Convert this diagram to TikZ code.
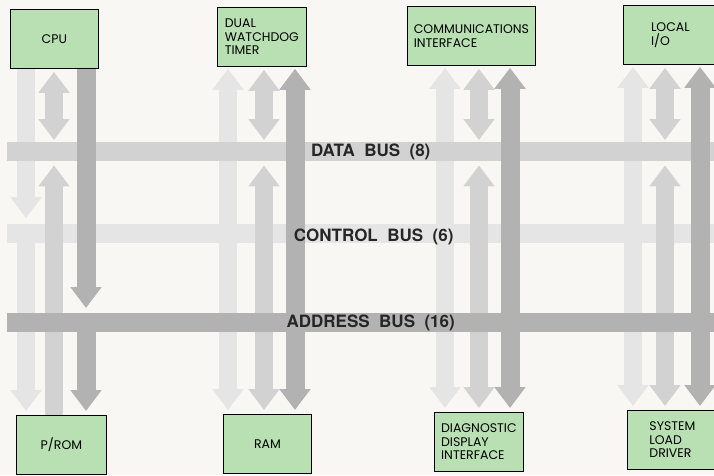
\documentclass[tikz,border=0pt]{standalone}
\usepackage{fontspec}
\usepackage{tikz}
\usetikzlibrary{arrows.meta}

\newfontfamily\modfont{Poppins}
\newfontfamily\busfont[WordSpace=2]{TeX Gyre Heros}

\definecolor{modgreen}{RGB}{184,224,178}
\definecolor{paper}{RGB}{248,247,243}
\definecolor{ctlgray}{RGB}{229,229,229}
\definecolor{datgray}{RGB}{210,210,210}
\definecolor{adrgray}{RGB}{178,178,178}

\pgfdeclarelayer{bg}
\pgfdeclarelayer{ctl}
\pgfdeclarelayer{dat}
\pgfdeclarelayer{adr}
\pgfsetlayers{bg,ctl,dat,adr,main}

\begin{document}
\begin{tikzpicture}[
    x=1pt, y=-1pt,
    >={Triangle[length=21pt,width=30pt]},
    module/.style={draw, fill=modgreen, line width=0.8pt, align=left,
                   font=\modfont\fontsize{12.5}{13.5}\selectfont,
                   minimum height=59pt, anchor=north west, inner sep=2pt},
    bus/.style={minimum width=707pt, minimum height=19pt,
                anchor=north west, inner sep=0pt},
    buslabel/.style={font=\busfont\bfseries\fontsize{17}{19}\selectfont,
                     text=black!85},
    ctl/.style={line width=18pt, draw=ctlgray},
    dat/.style={line width=18pt, draw=datgray},
    adr/.style={line width=19pt, draw=adrgray}
]
\useasboundingbox (0,0) rectangle (714,475);
\begin{pgfonlayer}{bg}
\fill[paper] (0,0) rectangle (714,475);
\end{pgfonlayer}

% modules on the top row
\node[module, minimum width=88pt] (cpu) at (10,9) {CPU};
\node[module, minimum width=89pt] (wdt) at (217,7) {DUAL\\WATCHDOG\\TIMER};
\node[module, minimum width=128pt] (com) at (407,6) {COMMUNICATIONS\\INTERFACE};
\node[module, minimum width=94pt] (lio) at (623,5) {LOCAL\\I/O};

% modules on the bottom row
\node[module, minimum width=90pt] (prom) at (16,415) {P/ROM};
\node[module, minimum width=88pt] (ram) at (223,414) {RAM};
\node[module, minimum width=89pt] (ddi) at (434,412)
    {DIAGNOSTIC\\DISPLAY\\INTERFACE};
\node[module, minimum width=90pt] (sld) at (627,410) {SYSTEM\\LOAD\\DRIVER};

% columns (control / data / address) of each module pair
\coordinate (cpuC) at (26,0);  \coordinate (cpuD) at (54,0);  \coordinate (cpuA) at (86,0);
\coordinate (wdtC) at (228,0); \coordinate (wdtD) at (264,0); \coordinate (wdtA) at (295,0);
\coordinate (comC) at (445,0); \coordinate (comD) at (479,0); \coordinate (comA) at (510,0);
\coordinate (lioC) at (633,0); \coordinate (lioD) at (665,0); \coordinate (lioA) at (700,0);

% control bus and its lines
\begin{pgfonlayer}{ctl}
\node[bus, fill=ctlgray] (ctlbus) at (7,224) {};
\draw[ctl, ->, shorten >=6pt] (cpu.south -| cpuC) -- (ctlbus.north -| cpuC);
\draw[ctl, ->, shorten >=2pt] (ctlbus.north -| wdtC) -- (wdt.south -| wdtC);
\draw[ctl, ->, shorten >=2pt] (ctlbus.north -| comC) -- (com.south -| comC);
\draw[ctl, ->, shorten >=2pt] (ctlbus.north -| lioC) -- (lio.south -| lioC);
\draw[ctl, ->, shorten >=4pt] (ctlbus.south -| cpuC) -- (prom.north -| cpuC);
\draw[ctl, ->, shorten >=4pt] (ctlbus.south -| wdtC) -- (ram.north -| wdtC);
\draw[ctl, ->, shorten >=4pt] (ctlbus.south -| comC) -- (ddi.north -| comC);
\draw[ctl, ->, shorten >=4pt] (ctlbus.south -| lioC) -- (sld.north -| lioC);
\end{pgfonlayer}

% data bus and its lines
\begin{pgfonlayer}{dat}
\node[bus, fill=datgray] (databus) at (7,142) {};
\draw[dat, <->, shorten <=3pt, shorten >=2pt] (cpu.south -| cpuD) -- (databus.north -| cpuD);
\draw[dat, <->, shorten <=3pt, shorten >=2pt] (wdt.south -| wdtD) -- (databus.north -| wdtD);
\draw[dat, <->, shorten <=3pt, shorten >=2pt] (com.south -| comD) -- (databus.north -| comD);
\draw[dat, <->, shorten <=3pt, shorten >=2pt] (lio.south -| lioD) -- (databus.north -| lioD);
\draw[dat, <-, shorten <=4pt] (databus.south -| cpuD) -- (prom.north -| cpuD);
\draw[dat, <->, shorten <=4pt, shorten >=4pt] (databus.south -| wdtD) -- (ram.north -| wdtD);
\draw[dat, <->, shorten <=4pt, shorten >=4pt] (databus.south -| comD) -- (ddi.north -| comD);
\draw[dat, <->, shorten <=4pt, shorten >=4pt] (databus.south -| lioD) -- (sld.north -| lioD);
\end{pgfonlayer}

% address bus and its lines
\begin{pgfonlayer}{adr}
\node[bus, fill=adrgray] (adrbus) at (7,313) {};
\draw[adr, ->, shorten >=5pt] (cpu.south -| cpuA) -- (adrbus.north -| cpuA);
\draw[adr, ->, shorten >=2pt] (adrbus.north -| wdtA) -- (wdt.south -| wdtA);
\draw[adr, ->, shorten >=2pt] (adrbus.north -| comA) -- (com.south -| comA);
\draw[adr, ->, shorten >=2pt] (adrbus.north -| lioA) -- (lio.south -| lioA);
\draw[adr, ->, shorten >=4pt] (adrbus.south -| cpuA) -- (prom.north -| cpuA);
\draw[adr, ->, shorten >=4pt] (adrbus.south -| wdtA) -- (ram.north -| wdtA);
\draw[adr, ->, shorten >=4pt] (adrbus.south -| comA) -- (ddi.north -| comA);
\draw[adr, ->, shorten >=4pt] (adrbus.south -| lioA) -- (sld.north -| lioA);
\end{pgfonlayer}

\node[buslabel] (datalbl) at ([xshift=10pt]databus.center) {DATA BUS (8)};
\node[buslabel] (ctllbl) at ([xshift=13pt,yshift=-3pt]ctlbus.center) {CONTROL BUS (6)};
\node[buslabel] (adrlbl) at ([xshift=10pt]adrbus.center) {ADDRESS BUS (16)};

\end{tikzpicture}
\end{document}
